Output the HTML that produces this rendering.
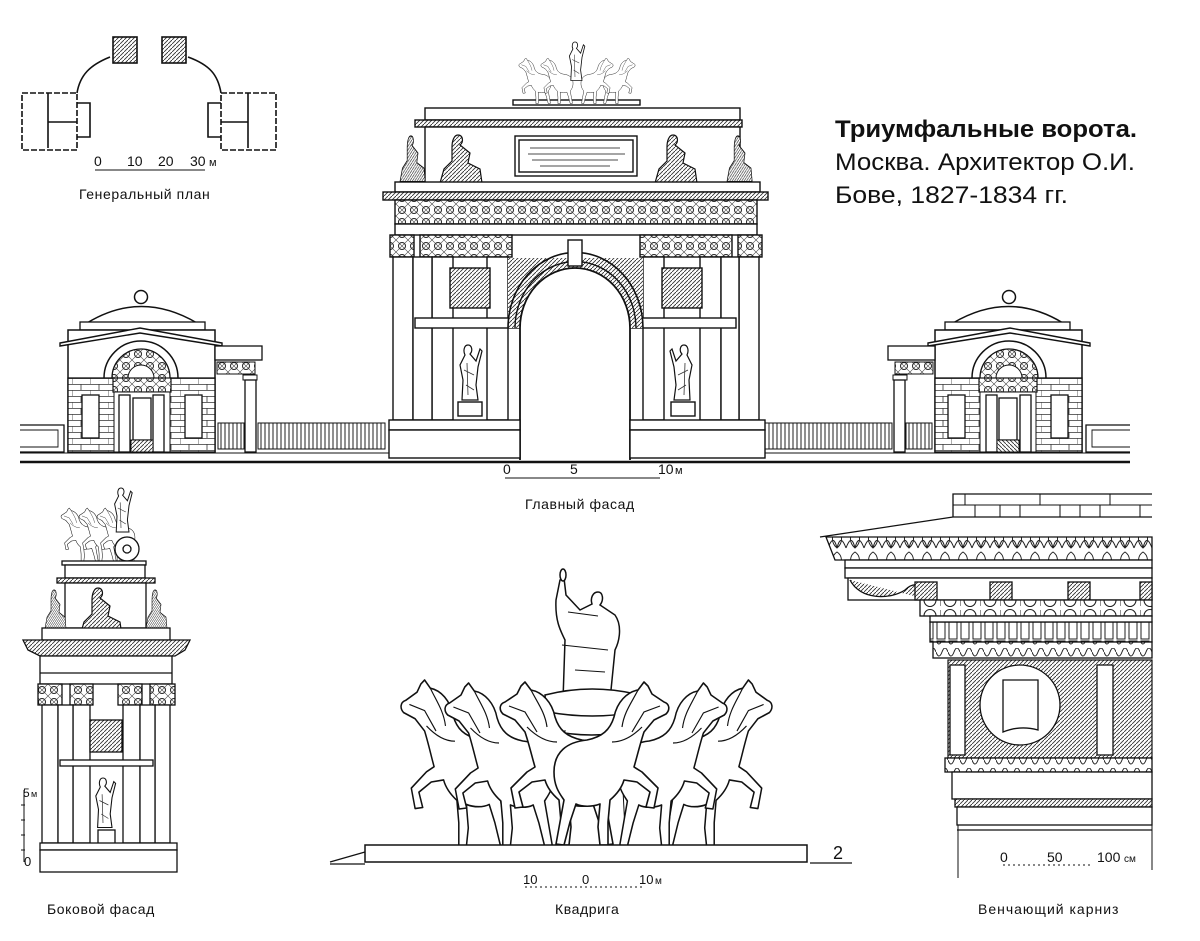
<!DOCTYPE html>
<html><head><meta charset="utf-8"><style>
html,body{margin:0;padding:0;background:#fff;}
svg{display:block;}
text{font-family:"Liberation Sans","DejaVu Sans",sans-serif;fill:#111;}
</style></head><body>
<svg width="1200" height="941" viewBox="0 0 1200 941" xmlns="http://www.w3.org/2000/svg">
<defs>
<pattern id="orn" width="12" height="12" patternUnits="userSpaceOnUse">
<rect width="12" height="12" fill="#fff"/>
<circle cx="6" cy="6" r="3.5" fill="none" stroke="#222" stroke-width="1"/>
<path d="M0 0L12 12M12 0L0 12" stroke="#444" stroke-width="0.6"/>
</pattern>
<pattern id="hatch" width="4" height="4" patternUnits="userSpaceOnUse">
<rect width="4" height="4" fill="#fff"/><path d="M0 4L4 0" stroke="#333" stroke-width="0.9"/>
</pattern>
<pattern id="brick" width="18" height="12" patternUnits="userSpaceOnUse">
<rect width="18" height="12" fill="#fff"/>
<path d="M0 0.5H18M0 6.5H18M9 0V6M0 6V12" stroke="#333" stroke-width="0.8"/>
</pattern>
<pattern id="fence" width="4" height="30" patternUnits="userSpaceOnUse">
<rect width="4" height="30" fill="#fff"/><path d="M1 0V30" stroke="#222" stroke-width="1"/>
</pattern>
<pattern id="dent" width="12" height="20" patternUnits="userSpaceOnUse">
<rect width="12" height="20" fill="#fff"/><rect x="1" y="1" width="8" height="18" fill="none" stroke="#222" stroke-width="1"/>
</pattern>
<pattern id="egg" width="20" height="16" patternUnits="userSpaceOnUse">
<rect width="20" height="16" fill="#fff"/><ellipse cx="10" cy="8" rx="6" ry="6.5" fill="none" stroke="#222" stroke-width="1.1"/><path d="M0 2V14" stroke="#222"/>
</pattern>
<pattern id="leaf" width="18" height="22" patternUnits="userSpaceOnUse">
<rect width="18" height="22" fill="#fff"/><path d="M9 20C2 14 4 5 9 2C14 5 16 14 9 20Z M0 20C3 12 6 8 9 20 M18 20C15 12 12 8 9 20" fill="none" stroke="#222" stroke-width="1"/>
</pattern>
<pattern id="wave" width="12" height="12" patternUnits="userSpaceOnUse">
<rect width="12" height="12" fill="#fff"/><path d="M0 4Q3 12 6 4T12 4" fill="none" stroke="#222" stroke-width="1"/>
</pattern>
<g id="horse">
<path d="M28,0 L34,8 C45,10 55,20 58,35 C62,48 70,55 85,58 C105,60 118,70 118,90 C118,105 112,112 108,118 L112,140 L116,162 L108,163 L102,140 L96,122 C90,125 80,125 72,122 L74,145 L72,163 L64,163 L64,140 L62,118 C55,112 50,105 48,98 L35,100 L22,110 L26,125 L18,126 L14,106 L30,90 L38,85 C35,75 32,62 28,50 L18,38 L6,32 C2,28 2,22 8,20 L20,12 L24,4 Z" fill="#fff" stroke="#111" stroke-width="1.6" stroke-linejoin="round"/>
<path d="M34,8 C40,20 48,30 50,45 M12,24 L28,30 L40,50 M30,45 C40,55 50,60 60,60" fill="none" stroke="#111" stroke-width="1.2"/>
</g>
<g id="statue">
<path d="M10,0 C14,0 15,6 12,9 L18,16 L22,4 L24,6 L20,22 L18,40 L20,55 L4,55 L5,35 L2,20 L7,10 C5,6 6,0 10,0Z" fill="#fff" stroke="#111" stroke-width="1.2"/>
<path d="M6,25 L16,30 M8,40 L16,45 M9,18 L10,50" stroke="#333" stroke-width="0.8"/>
</g>
<g id="seated">
<path d="M18,0 C23,0 24,7 20,10 L30,18 L28,28 L40,34 L42,48 L0,48 L4,34 L12,26 L12,12 C12,6 14,0 18,0Z" fill="url(#hatch)" stroke="#111" stroke-width="1.2"/>
</g>
<g id="pav">
<circle cx="141" cy="297" r="6.5" fill="#fff" stroke="#111" stroke-width="1.5"/>
<path d="M87,323 Q141,290 197,323 Z" fill="#fff" stroke="#111" stroke-width="1.5"/>
<rect x="80" y="322" width="125" height="8" fill="#fff" stroke="#111" stroke-width="1.3"/>
<rect x="68" y="330" width="147" height="122" fill="#fff" stroke="#111" stroke-width="1.5"/>
<path d="M60,343 L140,328 L222,343 L222,346 L140,333 L60,346Z" fill="#fff" stroke="#111" stroke-width="1.4"/>
<rect x="68" y="378" width="147" height="74" fill="url(#brick)" stroke="#111" stroke-width="1.3"/>
<path d="M104,378 A37,37 0 0 1 178,378" fill="none" stroke="#111" stroke-width="1.5"/>
<path d="M112,378 A29,29 0 0 1 170,378" fill="url(#orn)" stroke="#111" stroke-width="1.3"/>
<path d="M128,378 A13,13 0 0 1 154,378Z" fill="#fff" stroke="#111"/>
<rect x="113" y="378" width="58" height="14" fill="url(#orn)" stroke="#111" stroke-width="1.2"/>
<rect x="114" y="392" width="56" height="60" fill="#fff" stroke="#111"/>
<rect x="119" y="395" width="11" height="57" fill="#fff" stroke="#111" stroke-width="1.3"/>
<rect x="153" y="395" width="11" height="57" fill="#fff" stroke="#111" stroke-width="1.3"/>
<rect x="133" y="398" width="18" height="42" fill="#fff" stroke="#111" stroke-width="1.3"/>
<rect x="131" y="440" width="22" height="12" fill="url(#hatch)" stroke="#111"/>
<rect x="82" y="395" width="17" height="43" fill="#fff" stroke="#111" stroke-width="1.3"/>
<rect x="185" y="395" width="17" height="43" fill="#fff" stroke="#111" stroke-width="1.3"/>
<rect x="215" y="346" width="47" height="14" fill="#fff" stroke="#111" stroke-width="1.3"/>
<rect x="217" y="362" width="38" height="12" fill="url(#orn)" stroke="#111"/>
<rect x="243" y="375" width="14" height="5" fill="#fff" stroke="#111"/>
<rect x="245" y="380" width="11" height="72" fill="#fff" stroke="#111" stroke-width="1.3"/>
<rect x="218" y="423" width="26" height="26" fill="url(#fence)" stroke="#111"/>
<rect x="258" y="423" width="127" height="26" fill="url(#fence)" stroke="#111"/>
<path d="M20,425 H64 V452 H20" fill="none" stroke="#111" stroke-width="1.3"/>
<path d="M20,430 H58 V447 H20" fill="none" stroke="#111" stroke-width="0.9"/>
</g>
</defs>

<!-- ===== General plan ===== -->
<g stroke="#111" fill="none" stroke-width="1.6">
<rect x="113" y="37" width="24" height="26" fill="url(#hatch)"/>
<rect x="162" y="37" width="24" height="26" fill="url(#hatch)"/>
<path d="M110,57 C90,65 80,75 77,93"/>
<path d="M188,57 C210,65 218,75 221,93"/>
<path d="M22,93 H77 V150 H22 Z" stroke-dasharray="6,2"/>
<path d="M48,93 V148 M48,122 H77 M77,103 H90 V137 H77"/>
<path d="M221,93 H276 V150 H221 Z" stroke-dasharray="6,2"/>
<path d="M248,93 V148 M221,122 H248 M221,103 H208 V137 H221"/>
<path d="M95,170 H205" stroke-width="1"/>
</g>
<text x="94" y="166" font-size="14">0</text>
<text x="127" y="166" font-size="14">10</text>
<text x="158" y="166" font-size="14">20</text>
<text x="190" y="166" font-size="14">30</text>
<text x="209" y="166" font-size="11">м</text>
<text x="79" y="199" font-size="14" letter-spacing="0.6">Генеральный план</text>

<!-- ===== Title ===== -->
<text x="835" y="137" font-size="24" font-weight="bold" textLength="302" lengthAdjust="spacingAndGlyphs">Триумфальные ворота.</text>
<text x="835" y="170" font-size="24" textLength="300" lengthAdjust="spacingAndGlyphs">Москва. Архитектор О.И.</text>
<text x="835" y="203" font-size="24" textLength="233" lengthAdjust="spacingAndGlyphs">Бове, 1827-1834 гг.</text>

<!-- ===== Main facade ===== -->
<use href="#pav"/>
<use href="#pav" transform="translate(1150,0) scale(-1,1)"/>
<line x1="20" y1="462" x2="1130" y2="462" stroke="#111" stroke-width="2.5"/>
<line x1="20" y1="453" x2="1130" y2="453" stroke="#111" stroke-width="1"/>

<g stroke="#111" stroke-width="1.4" fill="#fff">
<rect x="513" y="100" width="127" height="5"/>
<g transform="translate(518,58) scale(0.28)"><use href="#horse"/></g>
<g transform="translate(540,58) scale(0.28)"><use href="#horse"/></g>
<g transform="translate(636,58) scale(-0.28,0.28)"><use href="#horse"/></g>
<g transform="translate(614,58) scale(-0.28,0.28)"><use href="#horse"/></g>
<g transform="translate(568,42) scale(0.7)"><use href="#statue"/></g>
<rect x="425" y="108" width="315" height="12"/>
<rect x="415" y="120" width="327" height="7" fill="url(#hatch)"/>
<rect x="425" y="127" width="315" height="57"/>
<rect x="515" y="136" width="122" height="40"/>
<rect x="519" y="140" width="114" height="32"/>
<g stroke-width="0.8"><path d="M530,148H620M528,154H625M532,160H618M540,166H610"/></g>
<g transform="translate(440,135)"><use href="#seated"/></g>
<g transform="translate(655,135)"><use href="#seated"/></g>
<g transform="translate(400,136) scale(0.6,0.95)"><use href="#seated"/></g>
<g transform="translate(727,136) scale(0.6,0.95)"><use href="#seated"/></g>
<rect x="395" y="182" width="365" height="10"/>
<rect x="383" y="192" width="385" height="8" fill="url(#hatch)"/>
<rect x="395" y="200" width="362" height="24" fill="url(#orn)"/>
<rect x="395" y="224" width="362" height="11"/>
<rect x="390" y="235" width="24" height="22" fill="url(#orn)"/>
<rect x="420" y="235" width="92" height="22" fill="url(#orn)"/>
<rect x="640" y="235" width="92" height="22" fill="url(#orn)"/>
<rect x="738" y="235" width="24" height="22" fill="url(#orn)"/>
<rect x="393" y="257" width="20" height="163"/>
<rect x="432" y="257" width="21" height="163"/>
<rect x="487" y="257" width="21" height="163"/>
<rect x="643" y="257" width="21" height="163"/>
<rect x="700" y="257" width="21" height="163"/>
<rect x="739" y="257" width="20" height="163"/>
<rect x="413" y="257" width="19" height="163"/>
<rect x="721" y="257" width="18" height="163"/>
<rect x="450" y="268" width="40" height="40" fill="url(#hatch)"/>
<rect x="662" y="268" width="40" height="40" fill="url(#hatch)"/>
<rect x="415" y="318" width="106" height="10"/>
<rect x="628" y="318" width="108" height="10"/>
<path d="M508,328 L508,258 L643,258 L643,328 L630,328 A55,55 0 0 0 520,328 Z" fill="url(#hatch)" stroke="none"/>
<path d="M508,328 A67,75 0 0 1 643,328" fill="none" stroke-width="1.6"/>
<path d="M515,328 A60,66 0 0 1 636,328" fill="none"/>
<path d="M520,460 L520,328 A55,60 0 0 1 630,328 L630,460" fill="#fff" stroke-width="1.8"/>
<rect x="568" y="240" width="14" height="26"/>
<g transform="translate(458,345)"><use href="#statue"/></g>
<g transform="translate(694,345) scale(-1,1)"><use href="#statue"/></g>
<rect x="458" y="402" width="24" height="14"/>
<rect x="671" y="402" width="24" height="14"/>
<rect x="389" y="420" width="131" height="10"/>
<rect x="630" y="420" width="135" height="10"/>
<rect x="389" y="430" width="131" height="28"/>
<rect x="630" y="430" width="135" height="28"/>
</g>
<g stroke="#111" stroke-width="1"><path d="M505,478 H660"/></g>
<text x="503" y="474" font-size="14">0</text>
<text x="570" y="474" font-size="14">5</text>
<text x="658" y="474" font-size="14">10</text>
<text x="675" y="474" font-size="11">м</text>
<text x="525" y="509" font-size="14" letter-spacing="0.6">Главный фасад</text>

<!-- ===== Side facade ===== -->
<g stroke="#111" stroke-width="1.3" fill="#fff">
<g transform="translate(60,508) scale(0.33)"><use href="#horse"/></g>
<g transform="translate(78,508) scale(0.33)"><use href="#horse"/></g>
<g transform="translate(96,508) scale(0.33)"><use href="#horse"/></g>
<g transform="translate(113,488) scale(0.8)"><use href="#statue"/></g>
<circle cx="127" cy="549" r="12"/><circle cx="127" cy="549" r="4"/>
<rect x="62" y="561" width="84" height="4"/>
<rect x="65" y="565" width="80" height="13"/>
<rect x="57" y="578" width="98" height="5" fill="url(#hatch)"/>
<rect x="65" y="583" width="81" height="45"/>
<g transform="translate(80,588)"><use href="#seated"/></g>
<g transform="translate(45,590) scale(0.5,0.8)"><use href="#seated"/></g>
<g transform="translate(146,590) scale(0.5,0.8)"><use href="#seated"/></g>
<rect x="42" y="628" width="128" height="12"/>
<path d="M23,640 H190 L185,650 L175,656 H40 L28,650 Z" fill="url(#hatch)"/>
<rect x="40" y="656" width="132" height="28"/>
<path d="M40,673 H172"/>
<rect x="38" y="684" width="24" height="21" fill="url(#orn)"/>
<rect x="70" y="684" width="23" height="21" fill="url(#orn)"/>
<rect x="118" y="684" width="24" height="21" fill="url(#orn)"/>
<rect x="150" y="684" width="25" height="21" fill="url(#orn)"/>
<rect x="42" y="705" width="16" height="138"/>
<rect x="73" y="705" width="17" height="138"/>
<rect x="123" y="705" width="17" height="138"/>
<rect x="155" y="705" width="15" height="138"/>
<rect x="58" y="705" width="15" height="138"/>
<rect x="140" y="705" width="15" height="138"/>
<rect x="90" y="720" width="32" height="32" fill="url(#hatch)"/>
<rect x="60" y="760" width="93" height="6"/>
<g transform="translate(94,778) scale(0.9)"><use href="#statue"/></g>
<rect x="98" y="830" width="17" height="18"/>
<rect x="40" y="843" width="137" height="7"/>
<rect x="40" y="850" width="137" height="22"/>
</g>
<g stroke="#111" stroke-width="1"><path d="M24,790 V862 M21,805 H25 M21,820 H25 M21,835 H25 M21,850 H25"/></g>
<text x="23" y="797" font-size="12">5</text><text x="31" y="797" font-size="9">м</text>
<text x="24" y="866" font-size="13">0</text>
<text x="47" y="914" font-size="14" letter-spacing="0.6">Боковой фасад</text>

<!-- ===== Quadriga ===== -->
<g stroke="#111" stroke-width="1.5" fill="#fff">
<path d="M560,580 L556,600 C555,620 560,630 565,640 L563,700 L610,700 L615,650 C620,640 622,625 615,615 L600,605 C604,600 603,592 598,592 C593,592 590,598 592,604 L580,610 L566,595 L564,578 Z"/>
<path d="M562,645 L608,650 M568,612 L598,616 M575,670 L605,672" fill="none" stroke-width="1"/>
<ellipse cx="563" cy="575" rx="3" ry="6"/>
<path d="M545,695 Q592,683 640,695 L635,730 Q592,740 548,730 Z"/>
<path d="M548,712 Q592,720 637,712" fill="none"/>
<path d="M565,730 L560,830 M620,730 L625,830" fill="none" stroke-width="1"/>
<g transform="translate(398,680) scale(0.95,1.02)"><use href="#horse"/></g>
<g transform="translate(442,683) scale(0.95,1.0)"><use href="#horse"/></g>
<g transform="translate(497,682) scale(1.0,1.0)"><use href="#horse"/></g>
<g transform="translate(775,680) scale(-0.95,1.02)"><use href="#horse"/></g>
<g transform="translate(730,683) scale(-0.95,1.0)"><use href="#horse"/></g>
<g transform="translate(672,682) scale(-1.0,1.0)"><use href="#horse"/></g>
<rect x="365" y="845" width="442" height="17"/>
</g>
<path d="M330,862 L365,852 M330,864 H365" stroke="#111" stroke-width="1.2" fill="none"/>
<path d="M810,863 H852" stroke="#111" stroke-width="1.2"/>
<text x="833" y="859" font-size="18">2</text>
<path d="M525,887 H645" stroke="#111" stroke-width="1" stroke-dasharray="2,3"/>
<text x="523" y="884" font-size="13">10</text>
<text x="582" y="884" font-size="13">0</text>
<text x="639" y="884" font-size="13">10</text><text x="655" y="884" font-size="10">м</text>
<text x="555" y="914" font-size="14" letter-spacing="0.6">Квадрига</text>

<!-- ===== Cornice ===== -->
<g stroke="#111" stroke-width="1.3" fill="#fff">
<path d="M953,517 V494 H1152" fill="none"/>
<path d="M953,505 H1152 M965,505 V494 M1000,505 V517 M1040,494 V505 M1080,505 V517 M1110,494 V505 M1140,505 V517 M975,505 V517 M1020,505 V517 M1060,505 V517 M1100,505 V517" fill="none" stroke-width="1"/>
<path d="M820,537 L953,517 H1152" fill="none"/>
<path d="M826,537 H1152 V560 H835 Z" fill="url(#leaf)"/>
<rect x="845" y="560" width="307" height="8"/>
<rect x="845" y="568" width="307" height="10"/>
<rect x="848" y="578" width="304" height="22"/>
<path d="M850,580 C860,600 890,600 905,590 C915,580 925,585 930,600" fill="url(#hatch)"/>
<rect x="915" y="582" width="22" height="18" fill="url(#hatch)"/>
<rect x="990" y="582" width="22" height="18" fill="url(#hatch)"/>
<rect x="1068" y="582" width="22" height="18" fill="url(#hatch)"/>
<rect x="1140" y="582" width="12" height="18" fill="url(#hatch)"/>
<rect x="920" y="600" width="232" height="16" fill="url(#egg)"/>
<rect x="930" y="622" width="222" height="20" fill="url(#dent)"/>
<rect x="930" y="616" width="222" height="6"/>
<rect x="933" y="642" width="219" height="16" fill="url(#wave)"/>
<rect x="948" y="660" width="204" height="98" fill="url(#hatch)" stroke-width="1.2"/>
<circle cx="1020" cy="705" r="40"/>
<path d="M1003,680 H1038 V730 Q1020,725 1003,732 Z"/>
<rect x="950" y="665" width="15" height="90"/>
<rect x="1097" y="665" width="16" height="90"/>
<rect x="945" y="758" width="207" height="14" fill="url(#wave)"/>
<rect x="952" y="772" width="200" height="27"/>
<rect x="955" y="799" width="197" height="8" fill="url(#hatch)"/>
<rect x="957" y="807" width="195" height="18"/>
<path d="M957,830 H1152" fill="none"/>
</g>
<path d="M958,825 V878 M1152,825 V870" stroke="#111" stroke-width="1"/>
<path d="M1003,865 H1090" stroke="#111" stroke-width="1" stroke-dasharray="2,3"/>
<text x="1000" y="862" font-size="14">0</text>
<text x="1047" y="862" font-size="14">50</text>
<text x="1097" y="862" font-size="14">100</text><text x="1124" y="862" font-size="10">см</text>
<text x="978" y="914" font-size="14" letter-spacing="1">Венчающий карниз</text>
</svg>
</body></html>
